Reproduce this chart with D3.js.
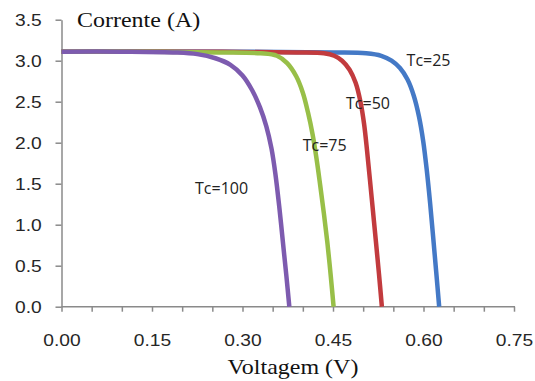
<!DOCTYPE html>
<html>
<head>
<meta charset="utf-8">
<script src="https://cdn.jsdelivr.net/npm/d3@7"></script>
<style>
  html, body { margin: 0; padding: 0; background: #fff; }
  svg { display: block; }
</style>
</head>
<body>
<div id="chart"></div>
<script>
// Voltage (V) / current (A) points
const tc25V  = [0, 0.30, 0.45, 0.505, 0.530, 0.547, 0.561, 0.5735, 0.584, 0.5925, 0.5995, 0.6055, 0.611, 0.616, 0.621, 0.626];
const tc25I  = [3.11, 3.11, 3.10, 3.09, 3.06, 3.00, 2.91, 2.77, 2.57, 2.32, 2.02, 1.66, 1.26, 0.85, 0.43, 0];
const tc50V  = [0, 0.20, 0.39, 0.435, 0.452, 0.465, 0.4775, 0.4875, 0.4955, 0.5015, 0.5065, 0.5112, 0.5162, 0.5212, 0.5262, 0.531];
const tc50I  = [3.11, 3.11, 3.10, 3.09, 3.06, 3.00, 2.89, 2.73, 2.50, 2.23, 1.90, 1.55, 1.17, 0.79, 0.40, 0];
const tc75V  = [0, 0.15, 0.26, 0.330, 0.357, 0.374, 0.389, 0.400, 0.4085, 0.4162, 0.4228, 0.4288, 0.435, 0.441, 0.4462, 0.451];
const tc75I  = [3.11, 3.11, 3.10, 3.09, 3.06, 2.97, 2.81, 2.61, 2.37, 2.10, 1.80, 1.48, 1.13, 0.76, 0.38, 0];
const tc100V = [0, 0.10, 0.19, 0.225, 0.255, 0.280, 0.300, 0.316, 0.329, 0.3395, 0.348, 0.3545, 0.3612, 0.3672, 0.3728, 0.3776];
const tc100I = [3.11, 3.11, 3.10, 3.08, 3.03, 2.95, 2.82, 2.64, 2.43, 2.20, 1.93, 1.62, 1.20, 0.77, 0.37, 0];

const seriesNames = ["Tc=25", "Tc=50", "Tc=75", "Tc=100"];
const seriesColors = ["#4479c6", "#c23b3e", "#98bf48", "#7d5baf"];
// where each label sits, in data units (V, A)
const labelV = [0.572, 0.4716, 0.3998, 0.2213];
const labelI = [2.94, 2.407, 1.899, 1.374];

const yTicks = [0, 0.5, 1, 1.5, 2, 2.5, 3, 3.5];
const xTicks = d3.range(0, 16).map(i => +(i * 0.05).toFixed(2));
const xLabelTicks = [0, 0.15, 0.30, 0.45, 0.60, 0.75];

const width = 535, height = 381;
const stretch = 1.2;   // the reference is a bit wider than tall, text too
const axisColor = "#8a8a8a";

const x = d3.scaleLinear().domain([0, 0.75]).range([61.5, 514]);
const y = d3.scaleLinear().domain([0, 3.5]).range([306.7, 19.7]);

const svg = d3.select("#chart")
  .append("svg")
  .attr("width", width)
  .attr("height", height);

// y axis
const yAxis = svg.append("g")
  .attr("transform", `translate(${x(0)},0)`)
  .call(d3.axisLeft(y).tickValues(yTicks).tickFormat(d3.format(".1f")).tickSize(6).tickSizeOuter(0));

yAxis.selectAll("text")
  .attr("x", -19.8 / stretch)
  .attr("dy", "0.36em")
  .attr("transform", `scale(${stretch},1)`)
  .attr("font-family", "'Liberation Sans', Arial, sans-serif")
  .attr("font-size", 16)
  .attr("fill", "#262626");

// x axis: minor ticks every 0.05, labels every 0.15
const xAxis = svg.append("g")
  .attr("transform", `translate(0,${y(0)})`)
  .call(d3.axisBottom(x).tickValues(xTicks)
    .tickFormat(d => xLabelTicks.some(t => Math.abs(t - d) < 1e-9) ? d3.format(".2f")(d) : "")
    .tickSize(5).tickSizeOuter(0));

xAxis.selectAll("text")
  .attr("y", 28.4)
  .attr("dy", "0.71em")
  .attr("x", 0)
  .attr("transform", `scale(${stretch},1)`)
  .attr("font-family", "'Liberation Sans', Arial, sans-serif")
  .attr("font-size", 16)
  .attr("fill", "#262626");

svg.selectAll(".domain, .tick line")
  .attr("stroke", axisColor)
  .attr("stroke-width", 1.5);

xAxis.select(".domain").attr("d", `M${x(0)},0H${x(0.75) + 1}`);

// curves (blue underneath, purple on top)
const series = [
  { v: tc25V, i: tc25I },
  { v: tc50V, i: tc50I },
  { v: tc75V, i: tc75I },
  { v: tc100V, i: tc100I }
];

const line = d3.line()
  .x(d => x(d[0]))
  .y(d => y(d[1]))
  .curve(d3.curveCatmullRom.alpha(0.5));

svg.append("g")
  .selectAll("path")
  .data(series)
  .join("path")
  .attr("fill", "none")
  .attr("stroke", (d, k) => seriesColors[k])
  .attr("stroke-width", 4.5)
  .attr("stroke-linejoin", "round")
  .attr("d", d => line(d.v.map((v, k) => [v, d.i[k]])));

// curve labels
svg.append("g")
  .selectAll("text")
  .data(seriesNames)
  .join("text")
  .attr("x", (d, k) => x(labelV[k]))
  .attr("y", (d, k) => y(labelI[k]))
  .attr("font-family", "'Open Sans', sans-serif")
  .attr("font-size", 16)
  .attr("fill", "#222")
  .text(d => d);

// axis titles, serif like the original
svg.append("text")
  .attr("transform", `translate(77,27.3) scale(${stretch},1)`)
  .attr("font-family", "'Liberation Serif', 'Times New Roman', serif")
  .attr("font-size", 20)
  .attr("fill", "#111")
  .text("Corrente (A)");

svg.append("text")
  .attr("transform", `translate(293,374) scale(${stretch},1)`)
  .attr("text-anchor", "middle")
  .attr("font-family", "'Liberation Serif', 'Times New Roman', serif")
  .attr("font-size", 20)
  .attr("fill", "#111")
  .text("Voltagem (V)");
</script>
</body>
</html>
